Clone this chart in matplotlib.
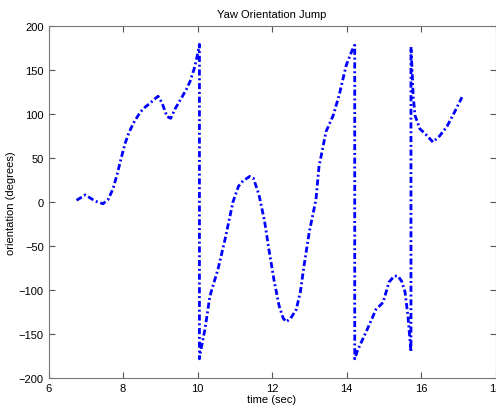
import numpy as np
import matplotlib.pyplot as plt

plt.rcParams['font.family'] = ['Liberation Sans', 'DejaVu Sans']

# tiempo (s) y orientacion yaw (grados)
time_sec = [6.75, 6.87, 6.98, 7.1, 7.25, 7.46, 7.6, 7.73, 7.85, 7.92, 8.05, 8.15,
            8.27, 8.46, 8.6, 8.72, 8.85, 8.94, 9.05, 9.18, 9.28, 9.4, 9.58, 9.7,
            9.8, 9.9, 9.96, 10.02, 10.05,
            10.05, 10.07, 10.2, 10.33, 10.55, 10.74, 10.95, 11.1, 11.22, 11.4,
            11.5, 11.65, 11.8, 11.92, 12.05, 12.19, 12.3, 12.38, 12.5, 12.65,
            12.76, 12.86, 13.0, 13.18, 13.26, 13.45, 13.64, 13.8, 13.99, 14.1,
            14.2, 14.22,
            14.22, 14.3, 14.52, 14.79, 14.98, 15.14, 15.28, 15.38, 15.48, 15.57,
            15.65, 15.7, 15.73,
            15.73, 15.76, 15.79, 15.84, 15.97, 16.1, 16.32, 16.5, 16.7, 16.9,
            17.1]
yaw_deg = [2, 5, 8, 5, 1, -2, 3, 15, 33, 45, 66, 78,
           89, 102, 108, 112, 117, 120, 112, 97, 95, 106, 119, 128,
           137, 150, 160, 172, 179,
           -178, -172, -144, -107, -76, -42, 0, 18, 24, 29,
           27, 8, -22, -55, -88, -118, -132, -136, -132, -122,
           -102, -72, -34, 3, 40, 80, 98, 121, 155, 167,
           177, 178,
           -178, -168, -148, -122, -114, -91, -84, -84, -90, -102,
           -130, -155, -170,
           176, 150, 120, 98, 83, 78, 68, 75, 86, 102,
           119]

fig = plt.figure(figsize=(4.96, 4.06), dpi=100)
ax = fig.add_axes([0.098, 0.066, 0.901, 0.868])

ax.plot(time_sec, yaw_deg, color='#0000ff', linestyle=(0, (2.2, 1.0, 0.7, 1.0)),
        linewidth=2.0)

ax.set_xlim(6, 18)
ax.set_ylim(-200, 200)
ax.set_xticks(np.arange(6, 19, 2))
ax.set_yticks(np.arange(-200, 201, 50))
ax.tick_params(direction='in', top=True, right=True, length=4, labelsize=8,
               color='#555555')
for sp in ax.spines.values():
    sp.set_color('#777777')
    sp.set_linewidth(0.8)

ax.set_title('Yaw Orientation Jump', fontsize=8)
ax.set_xlabel('time (sec)', fontsize=8, labelpad=1)
ax.set_ylabel('orientation (degrees)', fontsize=8, labelpad=2)

fig.savefig('out.png', dpi=100)
